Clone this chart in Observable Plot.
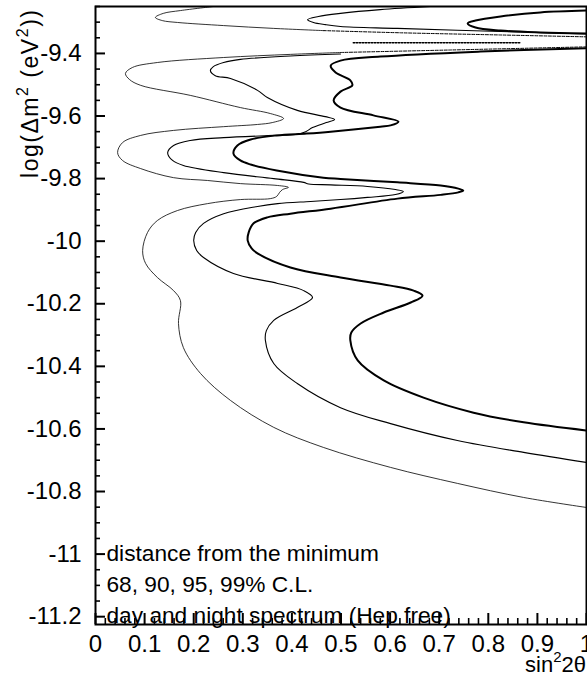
<!DOCTYPE html>
<html><head><meta charset="utf-8">
<script src="https://cdn.jsdelivr.net/npm/d3@7"></script>
<script src="https://cdn.jsdelivr.net/npm/@observablehq/plot@0.6"></script>
<style>body{margin:0;background:#fff} svg{display:block}</style>
</head><body><div id="chart"></div>
<script>
// ---- axis ticks ----
const xMajor = [0, 0.1, 0.2, 0.3, 0.4, 0.5, 0.6, 0.7, 0.8, 0.9, 1];
const xTickLabels = ["0", "0.1", "0.2", "0.3", "0.4", "0.5", "0.6", "0.7", "0.8", "0.9", "1"];
const yMajor = [-11.2, -11, -10.8, -10.6, -10.4, -10.2, -10, -9.8, -9.6, -9.4];
const yTickLabels = ["-11.2", "-11", "-10.8", "-10.6", "-10.4", "-10.2", "-10", "-9.8", "-9.6", "-9.4"];
const xMinor = d3.range(0, 1.0001, 0.02).filter(v => Math.abs(v * 10 - Math.round(v * 10)) > 1e-6);
const yMinor = d3.range(-11.2, -9.249, 0.05).filter(v => Math.abs(v * 5 - Math.round(v * 5)) > 1e-6);

const xLabelText = ["sin", "2", "2θ"];
const yLabelText = ["log(Δm", "2", " (eV", "2", "))"];
const legendLines = ["distance from the minimum", "68, 90, 95, 99% C.L.", "day and night spectrum (Hep free)"];

// ---- contour segments [sin^2 2θ, log Δm^2] ----
// 99% C.L. (outermost)
const outerTop = [[0.240,-9.250],[0.173,-9.263],[0.138,-9.272],[0.122,-9.285],[0.136,-9.295],[0.167,-9.301],[0.261,-9.311],[0.363,-9.320],[0.464,-9.327]];
const outerTopTail = [[0.464,-9.327],[0.621,-9.334],[0.825,-9.341],[1.0,-9.347]];
const outerMainTail = [[1.0,-9.379],[0.723,-9.389],[0.499,-9.397]];
const outerMain = [[0.499,-9.397],[0.397,-9.403],[0.261,-9.413],[0.126,-9.429],[0.075,-9.445],[0.061,-9.464],[0.069,-9.483],[0.092,-9.502],[0.193,-9.534],[0.295,-9.573],[0.356,-9.592],[0.383,-9.608],[0.360,-9.621],[0.330,-9.627],[0.261,-9.634],[0.159,-9.646],[0.092,-9.662],[0.055,-9.685],[0.045,-9.717],[0.055,-9.742],[0.092,-9.768],[0.159,-9.797],[0.228,-9.806],[0.295,-9.816],[0.371,-9.822],[0.393,-9.828],[0.381,-9.835],[0.375,-9.844],[0.369,-9.857],[0.356,-9.864],[0.295,-9.867],[0.228,-9.880],[0.167,-9.902],[0.126,-9.934],[0.106,-9.972],[0.096,-10.030],[0.102,-10.071],[0.126,-10.116],[0.159,-10.158],[0.173,-10.190],[0.169,-10.263],[0.179,-10.340],[0.214,-10.423],[0.275,-10.509],[0.363,-10.595],[0.464,-10.659],[0.601,-10.723],[0.737,-10.774],[0.872,-10.819],[1.0,-10.851]];
// 95% C.L.
const middleTop = [[0.682,-9.250],[0.580,-9.260],[0.499,-9.272],[0.454,-9.282],[0.432,-9.292],[0.444,-9.301],[0.468,-9.308],[0.499,-9.314],[0.615,-9.320],[0.825,-9.330],[1.0,-9.338]];
const middleMain = [[0.499,-9.402],[0.397,-9.408],[0.295,-9.419],[0.261,-9.429],[0.240,-9.442],[0.234,-9.455],[0.244,-9.471],[0.275,-9.480],[0.330,-9.518],[0.350,-9.541],[0.411,-9.582],[0.468,-9.602],[0.487,-9.611],[0.470,-9.621],[0.442,-9.637],[0.428,-9.650],[0.407,-9.659],[0.363,-9.662],[0.261,-9.669],[0.193,-9.678],[0.159,-9.694],[0.147,-9.717],[0.157,-9.742],[0.179,-9.758],[0.261,-9.781],[0.363,-9.800],[0.424,-9.812],[0.434,-9.817],[0.479,-9.820],[0.554,-9.825],[0.611,-9.835],[0.627,-9.841],[0.611,-9.851],[0.554,-9.860],[0.499,-9.867],[0.438,-9.873],[0.371,-9.880],[0.330,-9.889],[0.261,-9.912],[0.220,-9.943],[0.204,-9.972],[0.200,-9.998],[0.206,-10.030],[0.220,-10.052],[0.281,-10.103],[0.371,-10.135],[0.424,-10.158],[0.442,-10.180],[0.411,-10.212],[0.363,-10.253],[0.348,-10.286],[0.346,-10.317],[0.363,-10.391],[0.411,-10.455],[0.499,-10.532],[0.601,-10.583],[0.737,-10.637],[0.872,-10.675],[1.0,-10.707]];
// 90% C.L.
const innerMain = [[1.0,-9.383],[0.784,-9.394],[0.580,-9.410],[0.499,-9.423],[0.479,-9.439],[0.489,-9.461],[0.519,-9.486],[0.523,-9.502],[0.499,-9.522],[0.485,-9.550],[0.499,-9.573],[0.566,-9.598],[0.617,-9.618],[0.601,-9.630],[0.580,-9.634],[0.479,-9.650],[0.430,-9.656],[0.369,-9.662],[0.316,-9.675],[0.289,-9.694],[0.281,-9.720],[0.295,-9.742],[0.316,-9.755],[0.369,-9.774],[0.464,-9.797],[0.499,-9.801],[0.615,-9.812],[0.703,-9.822],[0.739,-9.832],[0.749,-9.838],[0.739,-9.844],[0.703,-9.852],[0.615,-9.864],[0.479,-9.896],[0.397,-9.912],[0.350,-9.924],[0.322,-9.943],[0.312,-9.972],[0.310,-9.998],[0.318,-10.023],[0.330,-10.039],[0.397,-10.084],[0.499,-10.116],[0.601,-10.142],[0.648,-10.158],[0.666,-10.174],[0.642,-10.196],[0.587,-10.228],[0.540,-10.263],[0.521,-10.292],[0.519,-10.317],[0.534,-10.381],[0.587,-10.445],[0.668,-10.500],[0.770,-10.548],[0.872,-10.579],[1.0,-10.605]];
// 68% C.L. island
const innerIsland = [[1.0,-9.263],[0.906,-9.269],[0.825,-9.282],[0.774,-9.295],[0.758,-9.304],[0.774,-9.317],[0.825,-9.327],[0.906,-9.333],[1.0,-9.336]];
const dottedPiece = [[0.525,-9.366],[0.866,-9.366]];

const seg = (data, w, dash) => Plot.line(data, {
  x: d => d[0], y: d => d[1], stroke: "black", strokeWidth: w,
  strokeDasharray: dash, curve: "catmull-rom", clip: true
});

const FONT = "'Liberation Sans', Arial, Helvetica, sans-serif";
const svg = Plot.plot({
  width: 587, height: 678,
  marginLeft: 95, marginRight: 1, marginTop: 6, marginBottom: 54,
  x: {domain: [0, 1]},
  y: {domain: [-11.225, -9.25]},
  style: {fontFamily: FONT, fontSize: "24px", background: "white", color: "black"},
  marks: [
    seg(outerTop, 0.8),
    seg(outerTopTail, 1, "3,1.5"),
    seg(outerMainTail, 1, "3,1.5"),
    seg(outerMain, 0.8),
    seg(middleTop, 1.1),
    seg(middleMain, 1.1),
    seg(innerMain, 2),
    seg(innerIsland, 2),
    seg(dottedPiece, 1.5, "1.5,1.5"),
    Plot.tickY(yMajor, {y: d => d, insetRight: 481, strokeWidth: 2}),
    Plot.tickY(yMinor, {y: d => d, insetRight: 486, strokeWidth: 1.6}),
    Plot.tickX(xMajor, {x: d => d, insetTop: 607, strokeWidth: 2}),
    Plot.tickX(xMinor, {x: d => d, insetTop: 612, strokeWidth: 1.6}),
    Plot.axisY(yMajor, {tickSize: 0, tickPadding: 14, label: null, fontSize: 24,
      tickFormat: d => yTickLabels[yMajor.indexOf(d)]}),
    Plot.axisX(xMajor, {tickSize: 0, tickPadding: 10, label: null, fontSize: 24,
      tickFormat: d => xTickLabels[xMajor.indexOf(d)]}),
    Plot.text([legendLines.join("\n")], {text: d => d, frameAnchor: "bottom-left",
      lineAnchor: "bottom", textAnchor: "start", lineHeight: 1.36, fontSize: 22.7, dx: 11, dy: -2}),
    Plot.frame({stroke: "black", strokeWidth: 2})
  ]
});

const s = d3.select(svg);
// y axis title
const yl = s.append("text")
  .attr("transform", "translate(38,10) rotate(-90)")
  .attr("text-anchor", "end")
  .attr("font-family", FONT).attr("font-size", 23).attr("fill", "black")
  .attr("textLength", 168).attr("lengthAdjust", "spacing");
yLabelText.forEach((t, i) => {
  const sup = i % 2 === 1;
  const ts = yl.append("tspan").text(t);
  if (sup) ts.attr("dy", -10).attr("font-size", 16);
  else if (i > 0) ts.attr("dy", 10);
});
// x axis title
const xl = s.append("text")
  .attr("transform", "translate(586,672)")
  .attr("text-anchor", "end")
  .attr("font-family", FONT).attr("font-size", 22).attr("fill", "black");
xLabelText.forEach((t, i) => {
  const ts = xl.append("tspan").text(t);
  if (i === 1) ts.attr("dy", -10).attr("font-size", 15);
  else if (i === 2) ts.attr("dy", 10);
});

document.getElementById("chart").appendChild(svg);
</script></body></html>
